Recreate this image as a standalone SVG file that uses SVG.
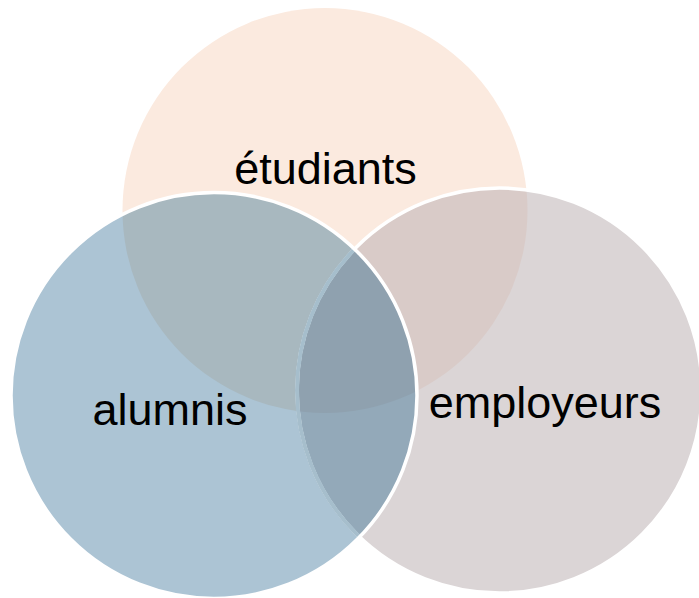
<svg xmlns="http://www.w3.org/2000/svg" width="699" height="598" viewBox="0 0 699 598">
<style>
.lbl{font-family:"Liberation Sans",Arial,sans-serif;font-size:45px;fill:#000;text-anchor:middle}
.ws{fill:none;stroke:#fff;stroke-width:3.5}
</style>
<defs>
<circle id="cT" cx="325" cy="210.5" r="202.5"/>
<circle id="cL" cx="214" cy="395.5" r="203"/>
<circle id="cR" cx="499.5" cy="390.5" r="202.5"/>
<clipPath id="clipT"><use href="#cT"/></clipPath>
<clipPath id="clipL"><use href="#cL"/></clipPath>
</defs>
<rect width="699" height="598" fill="#fff"/>
<g id="etudiants">
<use href="#cT" fill="#FBEADF"/>
</g>
<g id="employeurs">
<use href="#cR" fill="#DBD5D6"/>
</g>
<g id="alumnis">
<use href="#cL" fill="#ACC4D4"/>
</g>
<g id="overlaps">
<use href="#cR" fill="#D9CBC8" clip-path="url(#clipT)"/>
<use href="#cL" fill="#A8B8BF" clip-path="url(#clipT)"/>
<use href="#cR" fill="#93A9B9" clip-path="url(#clipL)"/>
<g clip-path="url(#clipL)"><use href="#cR" fill="#8FA1AF" clip-path="url(#clipT)"/></g>
</g>
<g id="outlines">
<use href="#cR" class="ws"/>
<use href="#cR" fill="none" stroke="#A6BECC" stroke-width="4" clip-path="url(#clipL)"/>
<use href="#cL" class="ws"/>
</g>
<g id="labels">
<text class="lbl" x="325.5" y="184">étudiants</text>
<text class="lbl" x="170" y="425">alumnis</text>
<text class="lbl" x="545" y="418">employeurs</text>
</g>
</svg>
